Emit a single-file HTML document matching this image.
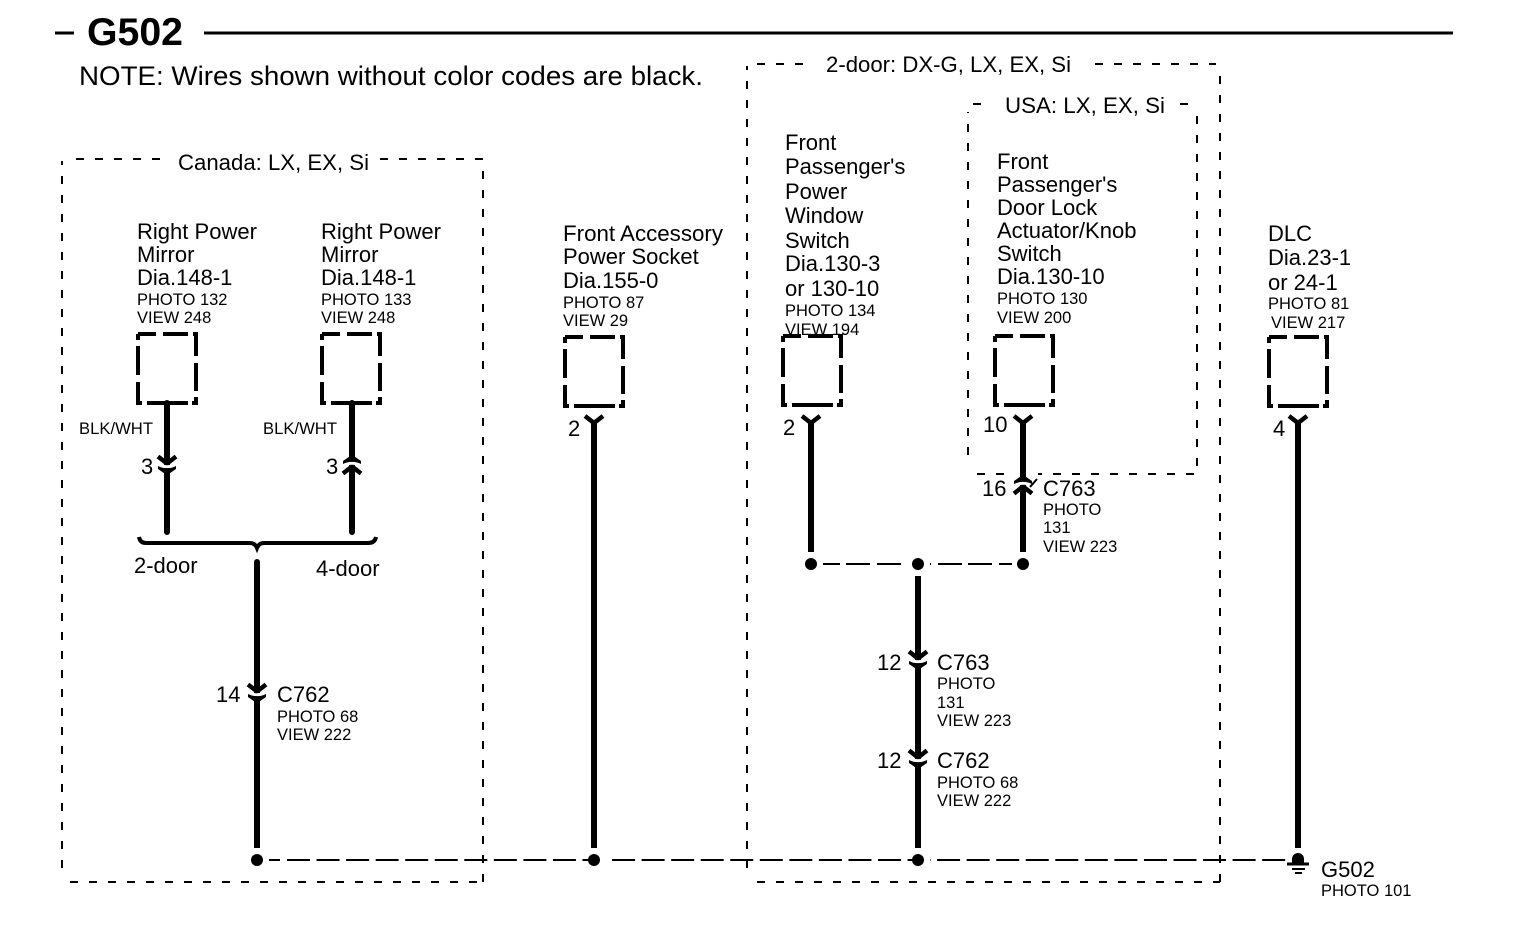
<!DOCTYPE html>
<html>
<head>
<meta charset="utf-8">
<style>
html,body{margin:0;padding:0;background:#fff;width:1520px;height:932px;overflow:hidden}
svg{display:block}
text{font-family:"Liberation Sans",sans-serif;fill:#000}
.m{font-size:22px}
.s{font-size:16.5px}
.d{fill:none;stroke:#000;stroke-width:2;stroke-dasharray:8 11}
.b{fill:none;stroke:#000;stroke-width:4}
.w{fill:none;stroke:#000;stroke-width:6}
.wr{fill:none;stroke:#000;stroke-width:6;stroke-linecap:round}
.y{fill:none;stroke:#000;stroke-width:4.5}
.g{fill:none;stroke:#000;stroke-width:2}
</style>
</head>
<body>
<svg width="1520" height="932" viewBox="0 0 1520 932" xmlns="http://www.w3.org/2000/svg">
<defs>
<path id="bx" class="b" d="M0 0H18M25 0H50M55 0H58V22M58 29V57M58 63V69H54M50 69H9M4 69H0V48M0 41V12M0 6V0"/>
<g id="cn">
<path d="M-9 -8.5L0 -1.5L9 -8.5" fill="none" stroke="#000" stroke-width="4.5"/>
<path d="M-10 -1Q0 4.5 10 -1" fill="none" stroke="#fff" stroke-width="3"/>
<path d="M-9 1Q0 5.5 9 1V4L1 9.5H-1L-9 4Z" fill="#000"/>
</g>
</defs>

<!-- Title -->
<path d="M55 33H74M204 33H1453" stroke="#000" stroke-width="3" fill="none"/>
<text x="87" y="45" font-size="39" font-weight="bold" textLength="96" lengthAdjust="spacingAndGlyphs">G502</text>
<text x="79" y="85" font-size="27" textLength="624" lengthAdjust="spacingAndGlyphs">NOTE: Wires shown without color codes are black.</text>

<!-- Optional boxes -->
<g>
<path class="d" d="M76 159H168"/>
<path class="d" d="M380 159H483"/>
<path class="d" d="M62 868V161"/>
<path class="d" d="M483 882V160"/>
<path class="d" d="M70 882H483"/>
<path class="d" d="M757 64H806"/>
<path class="d" d="M1095 64H1216"/>
<path class="d" d="M747 868V66"/>
<path class="d" d="M1220 882V70"/>
<path class="d" d="M757 882H1220"/>
<path class="d" d="M973 104H984"/>
<path class="d" d="M1180 104H1197"/>
<path class="d" d="M968 455V112"/>
<path class="d" d="M1197 466V106"/>
<path class="d" d="M977 474H1197"/>
<rect x="1005" y="472" width="33" height="4" fill="#fff"/>
</g>
<text class="m" x="178" y="170" textLength="191" lengthAdjust="spacingAndGlyphs">Canada: LX, EX, Si</text>
<text class="m" x="826" y="72" textLength="245" lengthAdjust="spacingAndGlyphs">2-door: DX-G, LX, EX, Si</text>
<text class="m" x="1005" y="113" textLength="160" lengthAdjust="spacingAndGlyphs">USA: LX, EX, Si</text>

<!-- Component boxes -->
<use href="#bx" x="138" y="334"/>
<use href="#bx" x="322" y="334"/>
<use href="#bx" x="565" y="337"/>
<use href="#bx" x="783" y="336"/>
<use href="#bx" x="995" y="336"/>
<use href="#bx" x="1269" y="337"/>

<!-- Component labels -->
<text class="m" x="137" y="239" textLength="120" lengthAdjust="spacingAndGlyphs">Right Power</text>
<text class="m" x="137" y="262">Mirror</text>
<text class="m" x="137" y="285">Dia.148-1</text>
<text class="s" x="137" y="305">PHOTO 132</text>
<text class="s" x="137" y="323">VIEW 248</text>

<text class="m" x="321" y="239" textLength="120" lengthAdjust="spacingAndGlyphs">Right Power</text>
<text class="m" x="321" y="262">Mirror</text>
<text class="m" x="321" y="285">Dia.148-1</text>
<text class="s" x="321" y="305">PHOTO 133</text>
<text class="s" x="321" y="323">VIEW 248</text>

<text class="m" x="563" y="241" textLength="160" lengthAdjust="spacingAndGlyphs">Front Accessory</text>
<text class="m" x="563" y="264">Power Socket</text>
<text class="m" x="563" y="288">Dia.155-0</text>
<text class="s" x="563" y="308">PHOTO 87</text>
<text class="s" x="563" y="326">VIEW 29</text>

<text class="m" x="785" y="150">Front</text>
<text class="m" x="785" y="174">Passenger's</text>
<text class="m" x="785" y="199">Power</text>
<text class="m" x="785" y="223">Window</text>
<text class="m" x="785" y="248">Switch</text>
<text class="m" x="785" y="271">Dia.130-3</text>
<text class="m" x="785" y="296">or 130-10</text>
<text class="s" x="785" y="316">PHOTO 134</text>
<text class="s" x="785" y="335">VIEW 194</text>

<text class="m" x="997" y="169">Front</text>
<text class="m" x="997" y="192">Passenger's</text>
<text class="m" x="997" y="215">Door Lock</text>
<text class="m" x="997" y="238">Actuator/Knob</text>
<text class="m" x="997" y="261">Switch</text>
<text class="m" x="997" y="284">Dia.130-10</text>
<text class="s" x="997" y="304">PHOTO 130</text>
<text class="s" x="997" y="323">VIEW 200</text>

<text class="m" x="1268" y="241">DLC</text>
<text class="m" x="1268" y="265">Dia.23-1</text>
<text class="m" x="1268" y="290">or 24-1</text>
<text class="s" x="1268" y="309">PHOTO 81</text>
<text class="s" x="1271" y="328">VIEW 217</text>

<!-- Wires -->
<path class="wr" d="M167 403V532M352 403V532"/>
<path class="wr" d="M257 562V700"/>
<path class="w" d="M257 700V848"/>
<path class="w" d="M594 422V848"/>
<path class="w" d="M811 422V552"/>
<path class="w" d="M1023 422V552"/>
<path class="w" d="M918 576V848"/>
<path class="w" d="M1298 422V848"/>

<!-- Brace -->
<path d="M139 537Q140 543 146 543H250Q255 543 257 548Q259 543 264 543H368Q375 543 376 537" fill="none" stroke="#000" stroke-width="4"/>
<text class="m" x="134" y="573">2-door</text>
<text class="m" x="316" y="576">4-door</text>

<!-- Wire colours -->
<text class="s" x="79" y="434" textLength="74" lengthAdjust="spacingAndGlyphs">BLK/WHT</text>
<text class="s" x="263" y="434" textLength="74" lengthAdjust="spacingAndGlyphs">BLK/WHT</text>

<!-- Top Y terminals -->
<path class="y" d="M585 416L594 423L603 416"/>
<path class="y" d="M802 416L811 423L820 416"/>
<path class="y" d="M1014 416L1023 423L1032 416"/>
<path class="y" d="M1289 416L1298 423L1307 416"/>

<!-- Inline connectors -->
<use href="#cn" transform="translate(167 465)"/>
<use href="#cn" transform="translate(352 465) scale(1 -1)"/>
<use href="#cn" transform="translate(1023 485) scale(1 -1)"/>
<path d="M1030 487L1037 479" stroke="#000" stroke-width="2"/>
<use href="#cn" transform="translate(257 693)"/>
<use href="#cn" transform="translate(918 660)"/>
<use href="#cn" transform="translate(918 759)"/>

<!-- Connector labels -->
<text class="m" x="141" y="474">3</text>
<text class="m" x="326" y="474">3</text>
<text class="m" x="568" y="436">2</text>
<text class="m" x="783" y="435">2</text>
<text class="m" x="983" y="432">10</text>
<text class="m" x="1273" y="436">4</text>
<text class="m" x="982" y="496">16</text>
<text class="m" x="1043" y="496">C763</text>
<text class="s" x="1043" y="515">PHOTO</text>
<text class="s" x="1043" y="533">131</text>
<text class="s" x="1043" y="552">VIEW 223</text>

<text class="m" x="877" y="670">12</text>
<text class="m" x="937" y="670">C763</text>
<text class="s" x="937" y="689">PHOTO</text>
<text class="s" x="937" y="708">131</text>
<text class="s" x="937" y="726">VIEW 223</text>

<text class="m" x="877" y="768">12</text>
<text class="m" x="937" y="768">C762</text>
<text class="s" x="937" y="788">PHOTO 68</text>
<text class="s" x="937" y="806">VIEW 222</text>

<text class="m" x="216" y="702">14</text>
<text class="m" x="277" y="702">C762</text>
<text class="s" x="277" y="722">PHOTO 68</text>
<text class="s" x="277" y="740">VIEW 222</text>

<!-- Splice lines -->
<path class="g" d="M823 564H840M846 564H870M877 564H901M930 564H931M938 564H962M968 564H992M999 564H1012"/>
<path class="g" d="M269 860H280"/>
<path class="g" d="M287 860H1286" stroke-dasharray="23 6.55"/>
<rect x="599" y="857" width="11" height="6" fill="#fff"/>
<rect x="924" y="857" width="6" height="6" fill="#fff"/>
<circle cx="811" cy="564" r="6"/>
<circle cx="918" cy="564" r="6"/>
<circle cx="1023" cy="564" r="6"/>
<circle cx="257" cy="860" r="6"/>
<circle cx="594" cy="860" r="6"/>
<circle cx="918" cy="860" r="6"/>

<!-- Ground -->
<path d="M1292 863V859a6 6 0 0 1 12 0V863z"/>
<path d="M1287 864H1309" stroke="#000" stroke-width="3"/>
<path d="M1292 869H1305M1295 873H1302" stroke="#000" stroke-width="2"/>
<text class="m" x="1321" y="877">G502</text>
<text class="s" x="1321" y="896">PHOTO 101</text>
</svg>
</body>
</html>
